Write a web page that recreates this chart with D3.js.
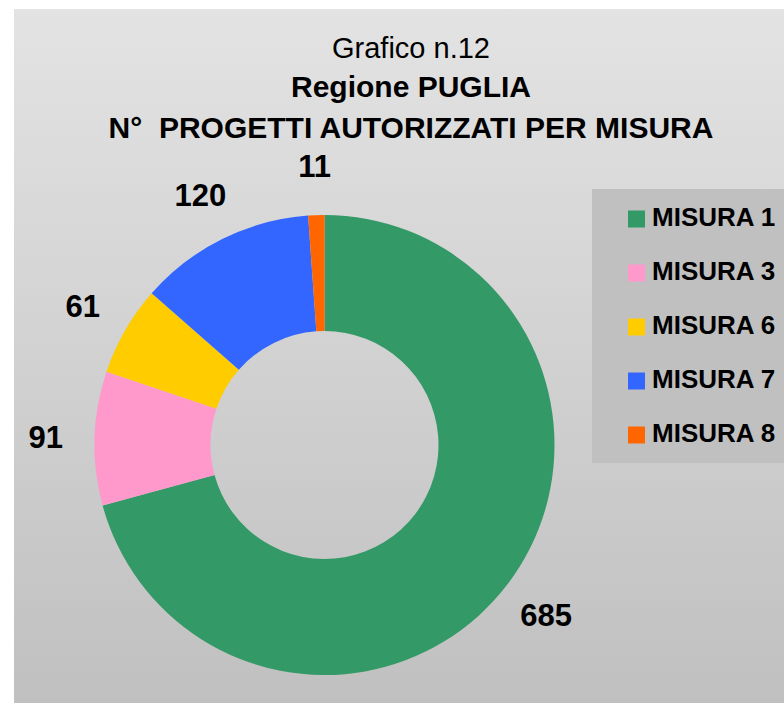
<!DOCTYPE html>
<html>
<head>
<meta charset="utf-8">
<script src="https://cdn.jsdelivr.net/npm/d3@7"></script>
<style>
  body { margin: 0; background: #fff; }
  svg { display: block; font-family: 'Liberation Sans', Arial, sans-serif; }
</style>
</head>
<body>
<svg id="container"></svg>
<script>
const categories = ['MISURA 1', 'MISURA 3', 'MISURA 6', 'MISURA 7', 'MISURA 8']
const values = [685, 91, 61, 120, 11]
const colors = ['#339966', '#FF99CC', '#FFCC00', '#3366FF', '#FF6600']
const titleLines = ['Grafico n.12', 'Regione PUGLIA', 'N°\u00a0\u00a0PROGETTI AUTORIZZATI PER MISURA']

const width = 784
const height = 703

const svg = d3
  .select('#container')
  .attr('width', width)
  .attr('height', height)

// background gradient, light at top, darker at bottom
const defs = svg.append('defs')
const grad = defs
  .append('linearGradient')
  .attr('id', 'bg')
  .attr('x1', 0)
  .attr('y1', 0)
  .attr('x2', 0)
  .attr('y2', 1)
grad.append('stop').attr('offset', '0%').attr('stop-color', '#e3e3e3')
grad.append('stop').attr('offset', '100%').attr('stop-color', '#c0c0c0')

svg
  .append('rect')
  .attr('x', 14)
  .attr('y', 9)
  .attr('width', width - 14)
  .attr('height', height - 9)
  .attr('fill', 'url(#bg)')

// titles
const titleY = [58, 97, 138]
svg
  .append('g')
  .attr('class', 'title')
  .selectAll('text')
  .data(titleLines)
  .join('text')
  .attr('x', 411)
  .attr('y', (d, i) => titleY[i])
  .attr('text-anchor', 'middle')
  .style('font-size', (d, i) => (i === 0 ? '29px' : '30px'))
  .style('font-weight', (d, i) => (i === 0 ? 'normal' : 'bold'))
  .attr('fill', '#000')
  .text(d => d)

// donut
const cx = 324.5
const cy = 445
const outerR = 230
const innerR = 114

const pie = d3
  .pie()
  .sort(null)
  .value(d => d)
const arcs = pie(values)

const arc = d3.arc().innerRadius(innerR).outerRadius(outerR)
const labelArc = d3.arc().innerRadius(279).outerRadius(279)

const chartBody = svg
  .append('g')
  .attr('class', 'chartBody')
  .attr('transform', `translate(${cx},${cy})`)

chartBody
  .selectAll('path')
  .data(arcs)
  .join('path')
  .attr('d', arc)
  .attr('fill', (d, i) => colors[i])

chartBody
  .selectAll('text')
  .data(arcs)
  .join('text')
  .attr('transform', d => `translate(${labelArc.centroid(d)})`)
  .attr('text-anchor', 'middle')
  .attr('dy', '0.36em')
  .style('font-size', '31px')
  .style('font-weight', 'bold')
  .text(d => d.data)

// legend
const legend = svg.append('g').attr('class', 'legend')
legend
  .append('rect')
  .attr('x', 592)
  .attr('y', 189)
  .attr('width', width - 592)
  .attr('height', 274)
  .attr('fill', '#c0c0c0')

const legendY = d3
  .scalePoint()
  .domain(categories)
  .range([219, 435])

const items = legend
  .selectAll('g.item')
  .data(categories)
  .join('g')
  .attr('class', 'item')
  .attr('transform', d => `translate(0,${legendY(d)})`)

items
  .append('rect')
  .attr('x', 628)
  .attr('y', -8.5)
  .attr('width', 17)
  .attr('height', 17)
  .attr('fill', (d, i) => colors[i])

items
  .append('text')
  .attr('x', 652)
  .attr('y', 7)
  .style('font-size', '26px')
  .style('font-weight', 'bold')
  .text(d => d)
</script>
</body>
</html>
